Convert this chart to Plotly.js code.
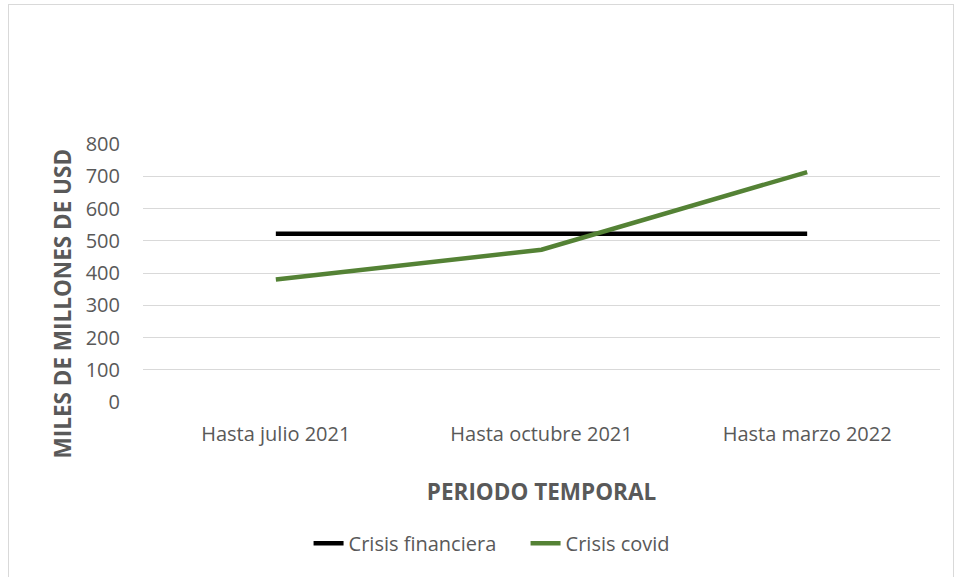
<!DOCTYPE html>
<html><head><meta charset="utf-8">
<script src="https://cdn.plot.ly/plotly-3.0.1.min.js"></script>
<style>
html,body{margin:0;padding:0;background:#fff;}
#frame{position:absolute;left:8px;top:4px;width:946px;height:600px;border:1px solid #d9d9d9;box-sizing:border-box;}
#chart{position:absolute;left:0;top:0;width:955px;height:577px;}
</style></head>
<body>
<div id="frame"></div>
<div id="chart"></div>
<script>
const categories = ["Hasta julio 2021", "Hasta octubre 2021", "Hasta marzo 2022"];
const crisisFinanciera = [522, 522, 522];
const crisisCovid = [380, 472, 713];
const yTicks = [0, 100, 200, 300, 400, 500, 600, 700, 800];

const traces = [
  {x: categories, y: crisisFinanciera, name: "Crisis financiera", type: "scatter", mode: "lines",
   line: {color: "#000000", width: 4.5}},
  {x: categories, y: crisisCovid, name: "Crisis covid", type: "scatter", mode: "lines",
   line: {color: "#548235", width: 4.5}}
];
const layout = {
  width: 955, height: 577,
  paper_bgcolor: "rgba(0,0,0,0)", plot_bgcolor: "rgba(0,0,0,0)",
  margin: {l: 143, r: 15, t: 143.5, b: 175.3},
  font: {family: "Open Sans, sans-serif", color: "#595959", size: 20},
  showlegend: true,
  legend: {orientation: "h", x: 0.48, xanchor: "center", y: -0.547, yanchor: "middle",
           font: {size: 20, color: "#595959"}, entrywidth: 172, entrywidthmode: "pixels"},
  xaxis: {type: "category", range: [-0.5, 2.5], showgrid: false, zeroline: false, showline: false, ticks: "",
          ticklabelstandoff: 18,
          tickfont: {size: 20, color: "#595959"},
          title: {text: "<b>PERIODO TEMPORAL</b>", font: {size: 22.5, color: "#595959"}, standoff: 38}},
  yaxis: {range: [0, 800], tickvals: yTicks, showgrid: true, gridcolor: "#d9d9d9", gridwidth: 1,
          zeroline: false, showline: false, ticks: "", ticklabelstandoff: 22,
          tickfont: {size: 20, color: "#595959"}},
  annotations: [
    {text: "<b>MILES DE MILLONES DE USD</b>", xref: "paper", yref: "paper", x: -0.1016, y: 0.382,
     xanchor: "center", yanchor: "middle", textangle: -90, showarrow: false,
     font: {size: 22.5, color: "#595959"}}
  ]
};
Plotly.newPlot("chart", traces, layout, {displayModeBar: false, staticPlot: true});
</script>
</body></html>
